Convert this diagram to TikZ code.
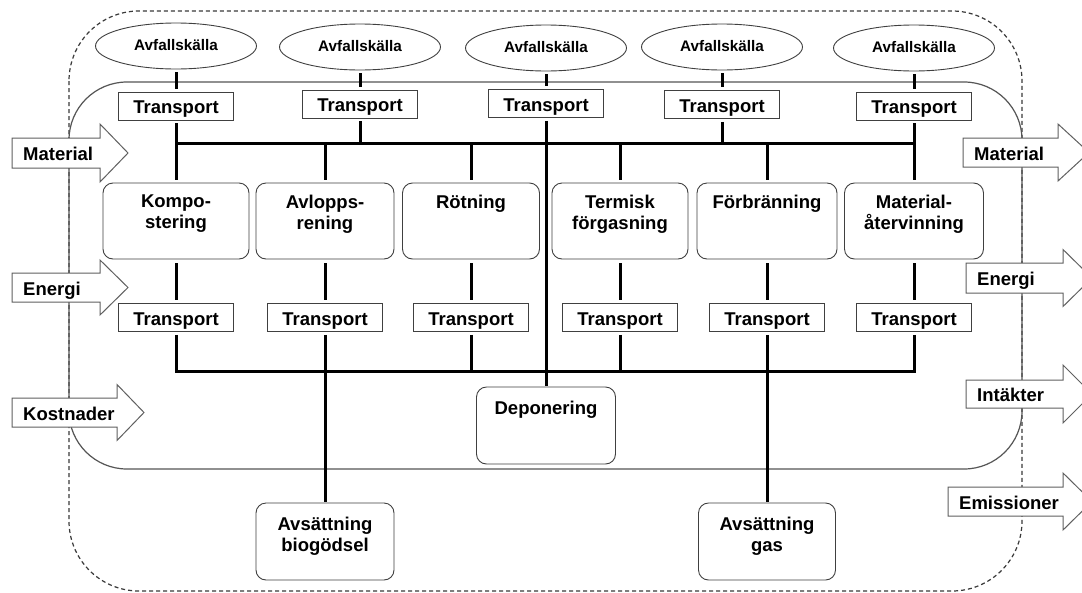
\documentclass[tikz,border=0pt]{standalone}
\usepackage{fontspec}
\setmainfont{Liberation Sans}
\usetikzlibrary{shapes.geometric}
\definecolor{boxgray}{HTML}{404040}
\definecolor{framegray}{HTML}{555555}
\definecolor{dashgray}{HTML}{3A3A3A}
\definecolor{arrgray}{HTML}{606060}
\newcommand{\mainlbl}{\fontsize{18.5}{21}\selectfont\bfseries}
\newcommand{\srclbl}{\fontsize{15.3}{18}\selectfont\bfseries}
\newcommand{\ptext}[1]{\parbox[c][52pt][t]{132pt}{\centering #1}}
\newcommand{\btext}[1]{\parbox[c][48pt][t]{132pt}{\centering #1}}
\tikzset{
  conn/.style={line width=3pt, draw=black},
  busline/.style={line width=3pt, draw=black, line cap=rect},
  tbox/.style={draw=boxgray, line width=0.9pt, fill=white, minimum width=115pt, minimum height=28pt, inner sep=0pt, font=\mainlbl, text height=15pt, text depth=0pt},
  src/.style={ellipse, draw=boxgray, line width=0.9pt, fill=white, minimum width=161pt, minimum height=46pt, inner sep=0pt, font=\srclbl, text height=8pt, text depth=0pt},
  proc/.style={draw=boxgray, line width=0.9pt, rounded corners=10pt, fill=white, minimum height=76pt, inner sep=0pt, font=\mainlbl},
  endbox/.style={draw=boxgray, line width=0.9pt, rounded corners=10pt, fill=white, minimum width=139pt, minimum height=77pt, inner sep=0pt, font=\mainlbl},
  arrowbox/.style={draw=arrgray, line width=1pt, fill=white},
  sidelbl/.style={anchor=base west, inner sep=0pt, font=\mainlbl},
  frame/.style={draw=framegray, line width=1.2pt},
  dframe/.style={draw=dashgray, line width=1.2pt, dash pattern=on 4pt off 3pt},
}
% name, x0, xbase, xtip, yc, body half, head half, label
\newcommand{\sidearrow}[8]{%
  \draw[arrowbox] (#2,#5-#6) -- (#3,#5-#6) -- (#3,#5-#7) -- (#4,#5) -- (#3,#5+#7) -- (#3,#5+#6) -- (#2,#5+#6) -- cycle;
  \node[sidelbl] (#1) at (#2+11,#5+7.5) {#8};}
\begin{document}
\begin{tikzpicture}[x=1pt,y=-1pt]
\useasboundingbox (0,0) rectangle (1082,592);
\clip (0,0) rectangle (1082,592);
\fill[white] (0,0) rectangle (1082,592);
% frames
\draw[dframe, rounded corners=70pt] (69,11) rectangle (1022,591);
\draw[frame, rounded corners=58pt] (69,82) rectangle (1022,469);
% side arrows
\sidearrow{inMat}{12}{100}{128}{153}{15}{29}{Material}
\sidearrow{inEn}{12}{100}{128}{287.5}{14.5}{27.5}{Energi}
\sidearrow{inKost}{12}{117}{144}{412.5}{14.5}{28}{Kostnader}
\sidearrow{outMat}{963}{1058}{1089}{152.5}{14.5}{28.5}{Material}
\sidearrow{outEn}{966}{1063}{1092}{278}{15}{28.5}{Energi}
\sidearrow{outInt}{966}{1063}{1092}{394}{14}{29}{Intäkter}
\sidearrow{outEm}{948}{1063}{1092}{501.5}{14.5}{28.5}{Emissioner}
% sources
\node[src] (e1) at (176,46) {Avfallskälla};
\node[src] (e2) at (360,47) {Avfallskälla};
\node[src] (e3) at (546,48) {Avfallskälla};
\node[src] (e4) at (722,47) {Avfallskälla};
\node[src] (e5) at (914,48) {Avfallskälla};
% upper transports
\node[tbox] (ta1) at (176,106) {Transport};
\node[tbox] (ta2) at (360,104) {Transport};
\node[tbox] (ta3) at (546,103.5) {Transport};
\node[tbox] (ta4) at (722,104.5) {Transport};
\node[tbox] (ta5) at (914,106) {Transport};
% processes
\node[proc, minimum width=146pt] (p1) at (176,221) {\ptext{Kompo-\\stering}};
\node[proc, minimum width=138pt] (p2) at (325,221) {\ptext{Avlopps-\\rening}};
\node[proc, minimum width=137pt] (p3) at (471,221) {\ptext{Rötning}};
\node[proc, minimum width=136pt] (p4) at (620,221) {\ptext{Termisk\\förgasning}};
\node[proc, minimum width=140pt] (p5) at (767,221) {\ptext{Förbränning}};
\node[proc, minimum width=139pt] (p6) at (914,221) {\ptext{Material-\\återvinning}};
% lower transports
\node[tbox] (tb1) at (176,317.5) {Transport};
\node[tbox] (tb2) at (325,317.5) {Transport};
\node[tbox] (tb3) at (471,317.5) {Transport};
\node[tbox] (tb4) at (620,317.5) {Transport};
\node[tbox] (tb5) at (767,317.5) {Transport};
\node[tbox] (tb6) at (914,317.5) {Transport};
% end boxes
\node[endbox] (dep) at (546,425.5) {\btext{Deponering}};
\node[endbox, minimum width=138pt] (ab) at (325,541.5) {\btext{Avsättning\\biogödsel}};
\node[endbox, minimum width=137pt] (ag) at (767,541.5) {\btext{Avsättning\\gas}};
% bus coordinates
\coordinate (uL) at (176,143);
\coordinate (uR) at (914,143);
\coordinate (lL) at (176,371);
\coordinate (lR) at (914,371);
% connectors
\foreach \i in {1,...,5}{\draw[conn, shorten <=3pt, shorten >=3pt] (e\i.south) -- (ta\i.north);}
\foreach \i in {1,2,4,5}{\draw[conn, shorten <=3pt] (ta\i.south) -- (ta\i.south |- uL);}
\draw[busline] (uL) -- (uR);
\foreach \j in {1,...,6}{
  \draw[conn, shorten >=3pt] (p\j.north |- uL) -- (p\j.north);
  \draw[conn, shorten <=4pt, shorten >=3pt] (p\j.south) -- (tb\j.north);
  \draw[conn, shorten <=3pt] (tb\j.south) -- (tb\j.south |- lL);
}
\draw[busline] (lL) -- (lR);
\draw[conn, shorten <=3pt, shorten >=1pt] (ta3.south) -- (dep.north);
\draw[conn, shorten >=1pt] (tb2.south |- lL) -- (ab.north);
\draw[conn, shorten >=1pt] (tb5.south |- lL) -- (ag.north);
\end{tikzpicture}
\end{document}
